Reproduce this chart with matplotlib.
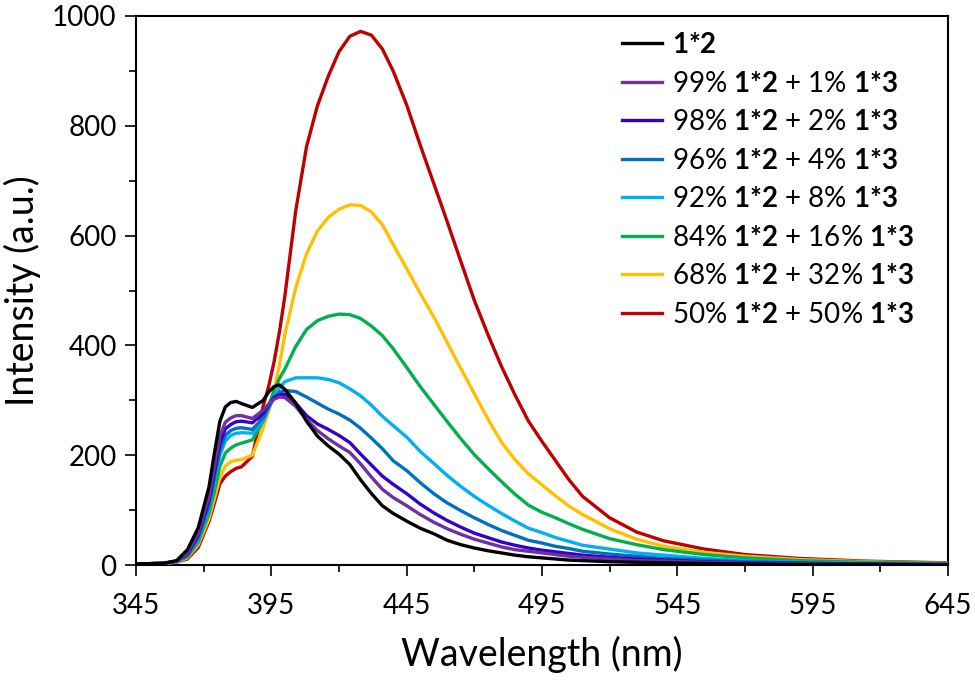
import matplotlib
matplotlib.use("Agg")
import matplotlib.pyplot as plt
from matplotlib.ticker import FixedLocator

plt.rcParams['font.family'] = ['Lato', 'DejaVu Sans']
plt.rcParams['mathtext.fontset'] = 'custom'
plt.rcParams['mathtext.rm'] = 'Lato'
plt.rcParams['mathtext.bf'] = 'Lato:bold'

# emission spectra (wavelength in nm, intensity in a.u.)
wavelength = [345, 355, 360, 364, 368, 372, 374, 376, 378, 380, 382, 384,
              388, 392, 394, 396, 398, 400, 404, 408, 412, 416, 420, 424,
              428, 432, 436, 440, 445, 450, 455, 460, 465, 470, 475, 480,
              485, 490, 495, 500, 505, 510, 520, 530, 540, 555, 570, 590,
              615, 645]

pure_12 = [2, 3, 8, 28, 68, 143, 205, 262, 288, 296, 298, 294,
           287, 300, 315, 325, 328, 320, 295, 262, 235, 217, 202, 183,
           155, 130, 108, 94, 80, 67, 57, 45, 37, 31, 26, 22,
           18, 15, 13, 11, 9, 8, 6, 5, 4, 3, 2, 1,
           1, 0]
mix_99 = [2, 3, 7, 22, 58, 125, 180, 235, 260, 268, 272, 272,
          267, 282, 293, 302, 306, 305, 289, 265, 245, 230, 217, 205,
          184, 160, 138, 123, 108, 92, 78, 66, 56, 47, 40, 33,
          28, 25, 22, 19, 16, 14, 11, 8, 7, 5, 3, 2,
          1, 1]
mix_98 = [2, 3, 7, 20, 55, 118, 170, 222, 248, 256, 261, 262,
          259, 276, 292, 305, 310, 311, 295, 272, 257, 247, 236, 223,
          202, 182, 162, 147, 130, 111, 95, 81, 69, 58, 50, 42,
          36, 31, 27, 24, 21, 18, 14, 11, 9, 6, 4, 3,
          2, 1]
mix_96 = [2, 3, 7, 18, 50, 110, 160, 210, 236, 245, 249, 250,
          247, 268, 288, 305, 314, 318, 316, 306, 295, 284, 275, 264,
          249, 231, 212, 190, 172, 150, 130, 113, 99, 86, 74, 63,
          54, 45, 40, 34, 30, 25, 20, 16, 12, 9, 6, 4,
          2, 1]
mix_92 = [2, 3, 6, 17, 46, 103, 150, 200, 226, 236, 240, 241,
          240, 262, 285, 305, 322, 334, 341, 341, 341, 338, 332, 321,
          308, 291, 271, 254, 233, 207, 185, 163, 143, 125, 109, 94,
          80, 67, 59, 50, 43, 36, 29, 22, 18, 12, 8, 5,
          3, 2]
mix_84 = [2, 3, 6, 15, 42, 95, 135, 180, 204, 213, 219, 222,
          228, 262, 290, 318, 340, 357, 398, 429, 445, 453, 457, 456,
          449, 435, 418, 394, 360, 325, 293, 261, 230, 201, 176, 152,
          129, 109, 96, 86, 75, 65, 48, 37, 28, 19, 13, 8,
          5, 3]
mix_68 = [2, 3, 5, 13, 37, 85, 122, 160, 180, 188, 191, 192,
          200, 250, 280, 316, 365, 420, 505, 567, 608, 633, 648, 656,
          655, 643, 620, 584, 540, 495, 452, 405, 358, 312, 266, 224,
          192, 166, 146, 126, 107, 92, 66, 47, 34, 23, 16, 10,
          6, 3]
mix_50 = [2, 3, 5, 11, 32, 80, 113, 148, 162, 170, 176, 179,
          198, 290, 325, 370, 425, 490, 645, 762, 836, 890, 935, 963,
          972, 965, 940, 900, 838, 765, 695, 625, 553, 482, 420, 362,
          310, 262, 225, 190, 155, 125, 86, 60, 44, 29, 19, 12,
          7, 4]

series = [pure_12, mix_99, mix_98, mix_96, mix_92, mix_84, mix_68, mix_50]
labels = [r'$\mathbf{1{*}2}$',
          r'99% $\mathbf{1{*}2}$ + 1% $\mathbf{1{*}3}$',
          r'98% $\mathbf{1{*}2}$ + 2% $\mathbf{1{*}3}$',
          r'96% $\mathbf{1{*}2}$ + 4% $\mathbf{1{*}3}$',
          r'92% $\mathbf{1{*}2}$ + 8% $\mathbf{1{*}3}$',
          r'84% $\mathbf{1{*}2}$ + 16% $\mathbf{1{*}3}$',
          r'68% $\mathbf{1{*}2}$ + 32% $\mathbf{1{*}3}$',
          r'50% $\mathbf{1{*}2}$ + 50% $\mathbf{1{*}3}$']
colors = ['#000000', '#7030A0', '#3300CC', '#0070C0',
          '#00B0F0', '#00B050', '#FFC000', '#C00000']

fig = plt.figure(figsize=(9.75, 6.92), dpi=100)
ax = fig.add_axes([0.1395, 0.1835, 0.8328, 0.7934])

# pure 1*2 ends up on top, the 50/50 mix at the bottom
for i, (y, lab, c) in enumerate(zip(series, labels, colors)):
    ax.plot(wavelength, y, color=c, lw=2.4, label=lab,
            solid_joinstyle='round', zorder=10 - i)

ax.set_xlim(345, 645)
ax.set_ylim(0, 1000)
ax.xaxis.set_major_locator(FixedLocator(list(range(345, 646, 50))))
ax.xaxis.set_minor_locator(FixedLocator(list(range(370, 646, 50))))
ax.yaxis.set_major_locator(FixedLocator(list(range(0, 1001, 200))))
ax.yaxis.set_minor_locator(FixedLocator(list(range(100, 1000, 200))))
ax.tick_params(which='both', direction='out', top=False, right=False,
               width=1.2, labelsize=20)
ax.tick_params(which='major', length=8, pad=6)
ax.tick_params(which='minor', length=5)
ax.tick_params(axis='x', pad=12)
for s in ax.spines.values():
    s.set_linewidth(1.5)

ax.set_xlabel('Wavelength (nm)', fontsize=27, labelpad=12)
ax.set_ylabel('Intensity (a.u.)', fontsize=27, labelpad=8)

ax.legend(loc='upper left', bbox_to_anchor=(0.585, 0.991), frameon=False,
          fontsize=20, handlelength=1.45, handletextpad=0.36,
          labelspacing=0.45, borderaxespad=0)

fig.savefig('out.png', dpi=100)
